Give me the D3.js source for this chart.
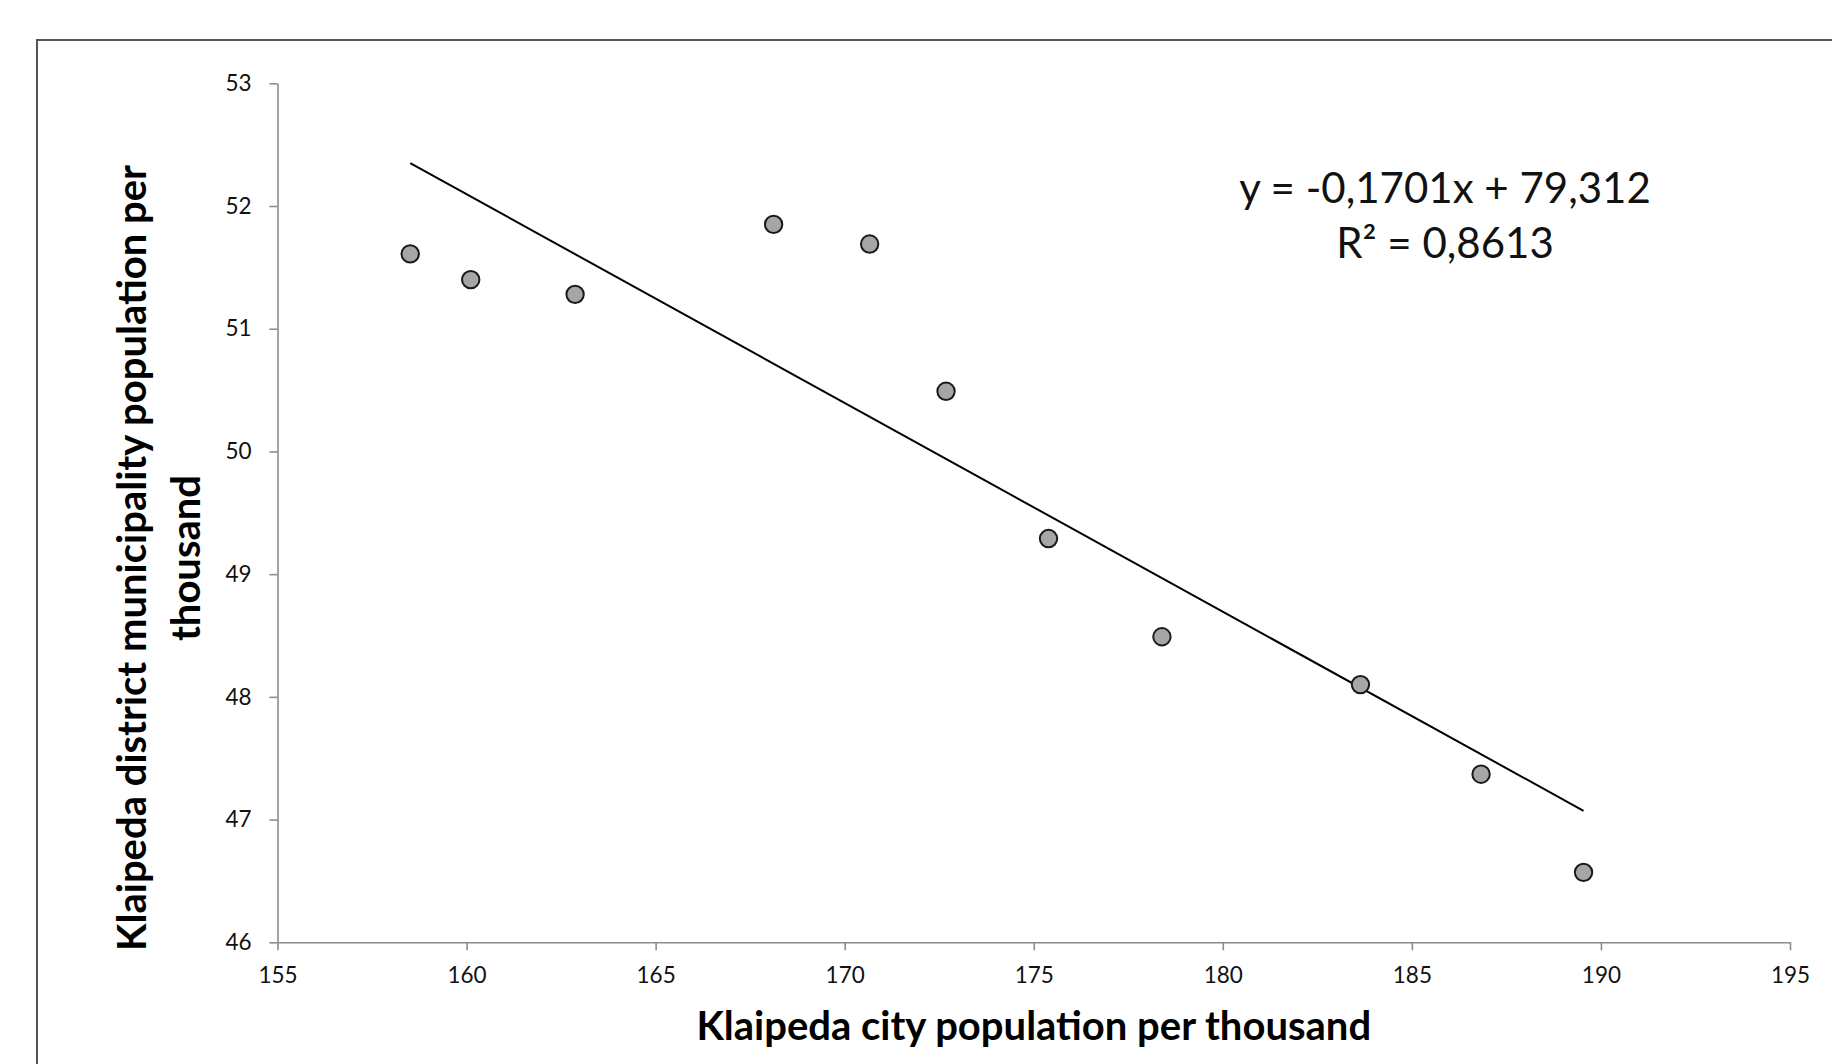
<!DOCTYPE html>
<html>
<head>
<meta charset="utf-8">
<script src="https://cdn.jsdelivr.net/npm/d3@7"></script>
<style>
  html, body { margin: 0; padding: 0; background: #ffffff; }
  svg { display: block; }
  text { font-family: Lato, "Noto Sans", sans-serif; }
</style>
</head>
<body>
<svg id="chart" width="1832" height="1064"></svg>
<script>
// ---- data ----
const cityPop = [158.51, 160.11, 162.87, 168.12, 170.66, 172.68, 175.39, 178.39, 183.64, 186.83, 189.54];
const districtPop = [51.61, 51.40, 51.28, 51.85, 51.69, 50.49, 49.29, 48.49, 48.10, 47.37, 46.57];
const xTicks = [155, 160, 165, 170, 175, 180, 185, 190, 195];
const yTicks = [46, 47, 48, 49, 50, 51, 52, 53];
const trendSlope = -0.1701;
const trendIntercept = 79.312;
const equationLines = ["y = -0,1701x + 79,312", "R² = 0,8613"];
const xTitle = "Klaipeda city population per thousand";
const yTitleLines = ["Klaipeda district municipality population per", "thousand"];

// ---- layout ----
const svg = d3.select("#chart");
const x = d3.scaleLinear().domain([155, 195]).range([277.5, 1790]);
const y = d3.scaleLinear().domain([46, 53]).range([942.3, 83.3]);

// outer frame
svg.append("rect")
  .attr("x", 37).attr("y", 40)
  .attr("width", 1900).attr("height", 1100)
  .attr("fill", "none")
  .attr("stroke", "#555555")
  .attr("stroke-width", 2);

const axisColor = "#8c8c8c";

// x axis
const gx = svg.append("g")
  .attr("transform", `translate(0,${y(46)})`)
  .call(d3.axisBottom(x).tickValues(xTicks).tickSize(8).tickSizeOuter(0).tickPadding(17)
    .tickFormat(d3.format("d")));
// y axis
const gy = svg.append("g")
  .attr("transform", `translate(${x(155)},0)`)
  .call(d3.axisLeft(y).tickValues(yTicks).tickSize(8).tickSizeOuter(0).tickPadding(18)
    .tickFormat(d3.format("d")));

[gx, gy].forEach(g => {
  g.select(".domain").attr("stroke", axisColor).attr("stroke-width", 1.6);
  g.selectAll(".tick line").attr("stroke", axisColor).attr("stroke-width", 1.6);
  g.selectAll(".tick text")
    .attr("fill", "#111")
    .style("font-size", "22.5px")
    .style("font-family", "Lato, 'Noto Sans', sans-serif");
});

// trend line from min x to max x
const xExt = d3.extent(cityPop);
const trend = xExt.map(v => [v, trendSlope * v + trendIntercept]);
svg.append("path")
  .datum(trend)
  .attr("d", d3.line().x(d => x(d[0])).y(d => y(d[1])))
  .attr("fill", "none")
  .attr("stroke", "#000")
  .attr("stroke-width", 2);

// points
svg.append("g").selectAll("circle")
  .data(cityPop.map((v, i) => [v, districtPop[i]]))
  .join("circle")
  .attr("cx", d => x(d[0]))
  .attr("cy", d => y(d[1]))
  .attr("r", 8.7)
  .attr("fill", "#a6a6a6")
  .attr("stroke", "#1a1a1a")
  .attr("stroke-width", 2);

// equation
svg.append("text")
  .attr("x", 1445).attr("y", 203)
  .attr("text-anchor", "middle")
  .style("font-size", "42px")
  .attr("fill", "#111")
  .text(equationLines[0]);
svg.append("text")
  .attr("x", 1445).attr("y", 258)
  .attr("text-anchor", "middle")
  .style("font-size", "42px")
  .attr("fill", "#111")
  .text(equationLines[1]);

// x title
svg.append("text")
  .attr("x", (x(155) + x(195)) / 2).attr("y", 1040)
  .attr("text-anchor", "middle")
  .style("font-size", "40px").style("font-weight", "bold")
  .attr("fill", "#000")
  .text(xTitle);

// y title
const yt = svg.append("text")
  .attr("transform", "translate(0,558) rotate(-90)")
  .attr("text-anchor", "middle")
  .style("font-size", "40px").style("font-weight", "bold")
  .attr("fill", "#000");
yt.append("tspan").attr("x", 0).attr("y", 146).text(yTitleLines[0]);
yt.append("tspan").attr("x", 0).attr("y", 200).text(yTitleLines[1]);
</script>
</body>
</html>
